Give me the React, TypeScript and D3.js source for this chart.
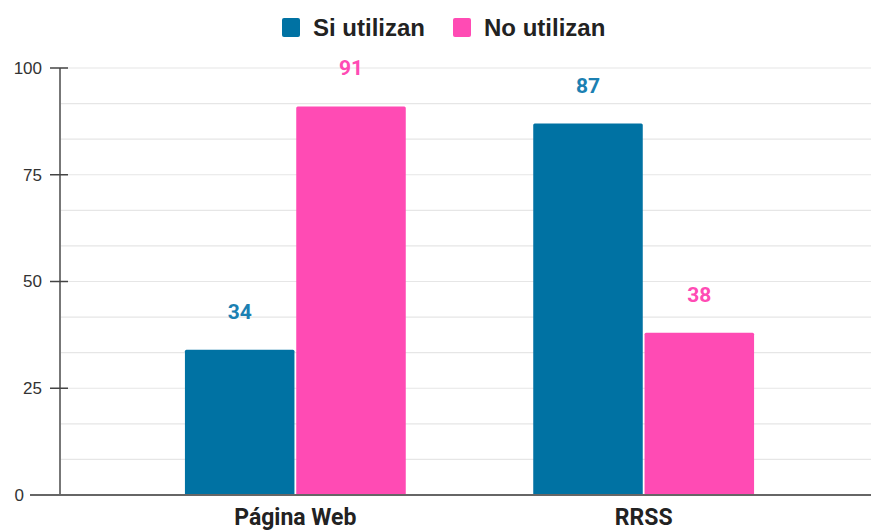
import React from "react";
import * as d3 from "d3";

const categories = ["Página Web", "RRSS"];
const series = ["Si utilizan", "No utilizan"];
const siUtilizan = [34, 87];
const noUtilizan = [91, 38];
const majorTicks = [0, 25, 50, 75, 100];
const colors = ["#0072A3", "#FF4BB4"];
const labelColors = ["#1B80B2", "#FF4BB4"];

export default function App() {
  const W = 871, H = 531;
  const roboto = "Roboto, 'Liberation Sans', Arial, sans-serif";
  const arial = "'Liberation Sans', Arial, sans-serif";
  const y = d3.scaleLinear().domain([0, 100]).range([495, 68]);
  const x = d3.scaleBand().domain(categories).range([60, 879]).paddingOuter(0.3587).paddingInner(0.366);
  const xs = d3.scaleBand().domain(series).range([0, x.bandwidth()]).paddingInner(0.016);
  const minorTicks = d3.range(0, 100.001, 100 / 12);
  const values = [siUtilizan, noUtilizan];
  return (
    <svg width={W} height={H} style={{ position: "absolute", left: 0, top: 0, background: "#fff" }} fontFamily={roboto}>
      {minorTicks.map((t, i) => (
        <line key={"g" + i} x1={60} x2={W} y1={y(t)} y2={y(t)} stroke="#e6e6e6" strokeWidth={1.2} />
      ))}
      {categories.map((c, ci) =>
        series.map((s, si) => {
          const v = values[si][ci];
          const bx = (x(c) as number) + (xs(s) as number);
          return (
            <g key={c + s}>
              <rect x={bx} y={y(v)} width={xs.bandwidth()} height={y(0) - y(v)} fill={colors[si]} rx={1.5} />
              <text x={bx + xs.bandwidth() / 2} y={y(v) - 31} textAnchor="middle" fontSize={21} fontWeight="bold" fill={labelColors[si]}>
                {v}
              </text>
            </g>
          );
        })
      )}
      <line x1={60} x2={60} y1={y(100)} y2={y(0)} stroke="#777" strokeWidth={2} />
      <line x1={30} x2={W} y1={y(0)} y2={y(0)} stroke="#666" strokeWidth={2} />
      {majorTicks.map((t) => (
        <g key={"t" + t}>
          {t > 0 && <line x1={50} x2={68} y1={y(t)} y2={y(t)} stroke="#444" strokeWidth={1.5} />}
          <text x={t === 0 ? 24 : 42} y={y(t)} dy="0.35em" textAnchor="end" fontSize={17} fill="#333" fontFamily={arial}>
            {t}
          </text>
        </g>
      ))}
      {categories.map((c) => (
        <text key={"c" + c} x={(x(c) as number) + x.bandwidth() / 2} y={525} textAnchor="middle" fontSize={23} fontWeight="bold" fill="#222">
          {c}
        </text>
      ))}
      {series.map((s, i) => {
        const lx = [282, 453][i];
        return (
          <g key={"l" + s}>
            <rect x={lx} y={18} width={18} height={19} fill={colors[i]} rx={2} />
            <text x={lx + 31} y={36} fontSize={24} fontWeight="bold" fill="#222" fontFamily={arial}>
              {s}
            </text>
          </g>
        );
      })}
    </svg>
  );
}
